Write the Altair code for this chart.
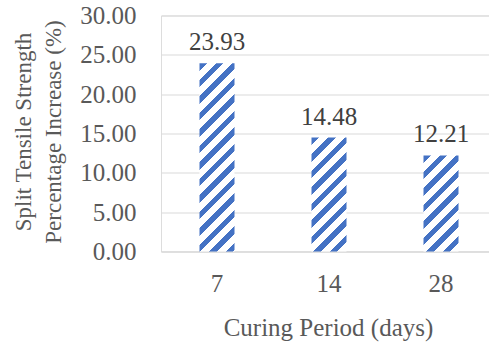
import altair as alt
import pandas as pd

# Curing period (days) and split tensile strength percentage increase (%)
days = ["7", "14", "28"]
increase = [23.93, 14.48, 12.21]
y_ticks = [0, 5, 10, 15, 20, 25, 30]

df = pd.DataFrame({"days": days, "increase": increase})

W, H = 328, 236
Y_MAX = 30
BAR_W = 35
STRIPE = 16.5      # stripe period along x+y, px
BLUE_FRAC = 0.45
BLUE = "#4472C4"
FONT = "Liberation Serif"
GREY = "#595959"


def hatch(value):
    """Diagonal '/' stripes as a hard-stop linear gradient over one bar."""
    h = value / Y_MAX * H
    w = BAR_W
    span = w + h
    norm = (w * w + h * h) / span
    stops = []
    k = 0
    while k * STRIPE < span:
        a = k * STRIPE / span
        b = min((k * STRIPE + STRIPE * BLUE_FRAC) / span, 1.0)
        c = min((k + 1) * STRIPE / span, 1.0)
        stops += [
            alt.GradientStop(offset=a, color=BLUE),
            alt.GradientStop(offset=b, color=BLUE),
            alt.GradientStop(offset=b, color="#ffffff"),
            alt.GradientStop(offset=c, color="#ffffff"),
        ]
        k += 1
    return alt.LinearGradient(
        gradient="linear", stops=stops, x1=0, y1=0, x2=w / norm, y2=h / norm
    )


x_enc = alt.X(
    "days:N",
    sort=days,
    scale=alt.Scale(domain=days, range=[0, 336], paddingInner=0, paddingOuter=0),
    axis=alt.Axis(
        title="Curing Period (days)",
        labelAngle=0,
        labelFont=FONT,
        labelFontSize=25,
        labelColor=GREY,
        labelPadding=20,
        labelBaseline="top",
        ticks=False,
        domainColor="#d9d9d9",
        titleFont=FONT,
        titleFontSize=25,
        titleFontWeight="normal",
        titleColor=GREY,
        titleBaseline="alphabetic",
        titleX=167,
        titleY=83.5,
    ),
)
y_enc = alt.Y(
    "increase:Q",
    scale=alt.Scale(domain=[0, Y_MAX], nice=False),
    axis=alt.Axis(
        title=["Split Tensile Strength", "Percentage Increase (%)"],
        values=y_ticks,
        format=".2f",
        labelFont=FONT,
        labelFontSize=25,
        labelColor=GREY,
        labelPadding=25,
        ticks=False,
        domain=False,
        gridColor="#d9d9d9",
        titleFont=FONT,
        titleFontSize=23,
        titleFontWeight="normal",
        titleColor=GREY,
        titleLineHeight=30,
        titleBaseline="alphabetic",
        titleX=-131,
        titleY=H / 2 - 2,
        titleAngle=270,
    ),
)

base = alt.Chart(df)
layers = []
for d, v in zip(days, increase):
    layers.append(
        base.transform_filter(alt.datum.days == d)
        .mark_bar(size=BAR_W, fill=hatch(v))
        .encode(x=x_enc, y=y_enc)
    )

labels = base.mark_text(
    font=FONT, fontSize=25, color="#404040", baseline="alphabetic", dy=-13
).encode(x=x_enc, y=y_enc, text=alt.Text("increase:Q", format=".2f"))

chart = (
    alt.layer(*layers, labels)
    .properties(
        width=W,
        height=H,
        autosize=alt.AutoSizeParams(type="none"),
        padding={"left": 161, "top": 15.5, "right": 0, "bottom": 91.5},
    )
    .configure_view(stroke=None)
    .configure(background="white")
)

chart.save("out.html", embed_options={"renderer": "svg", "actions": False})
